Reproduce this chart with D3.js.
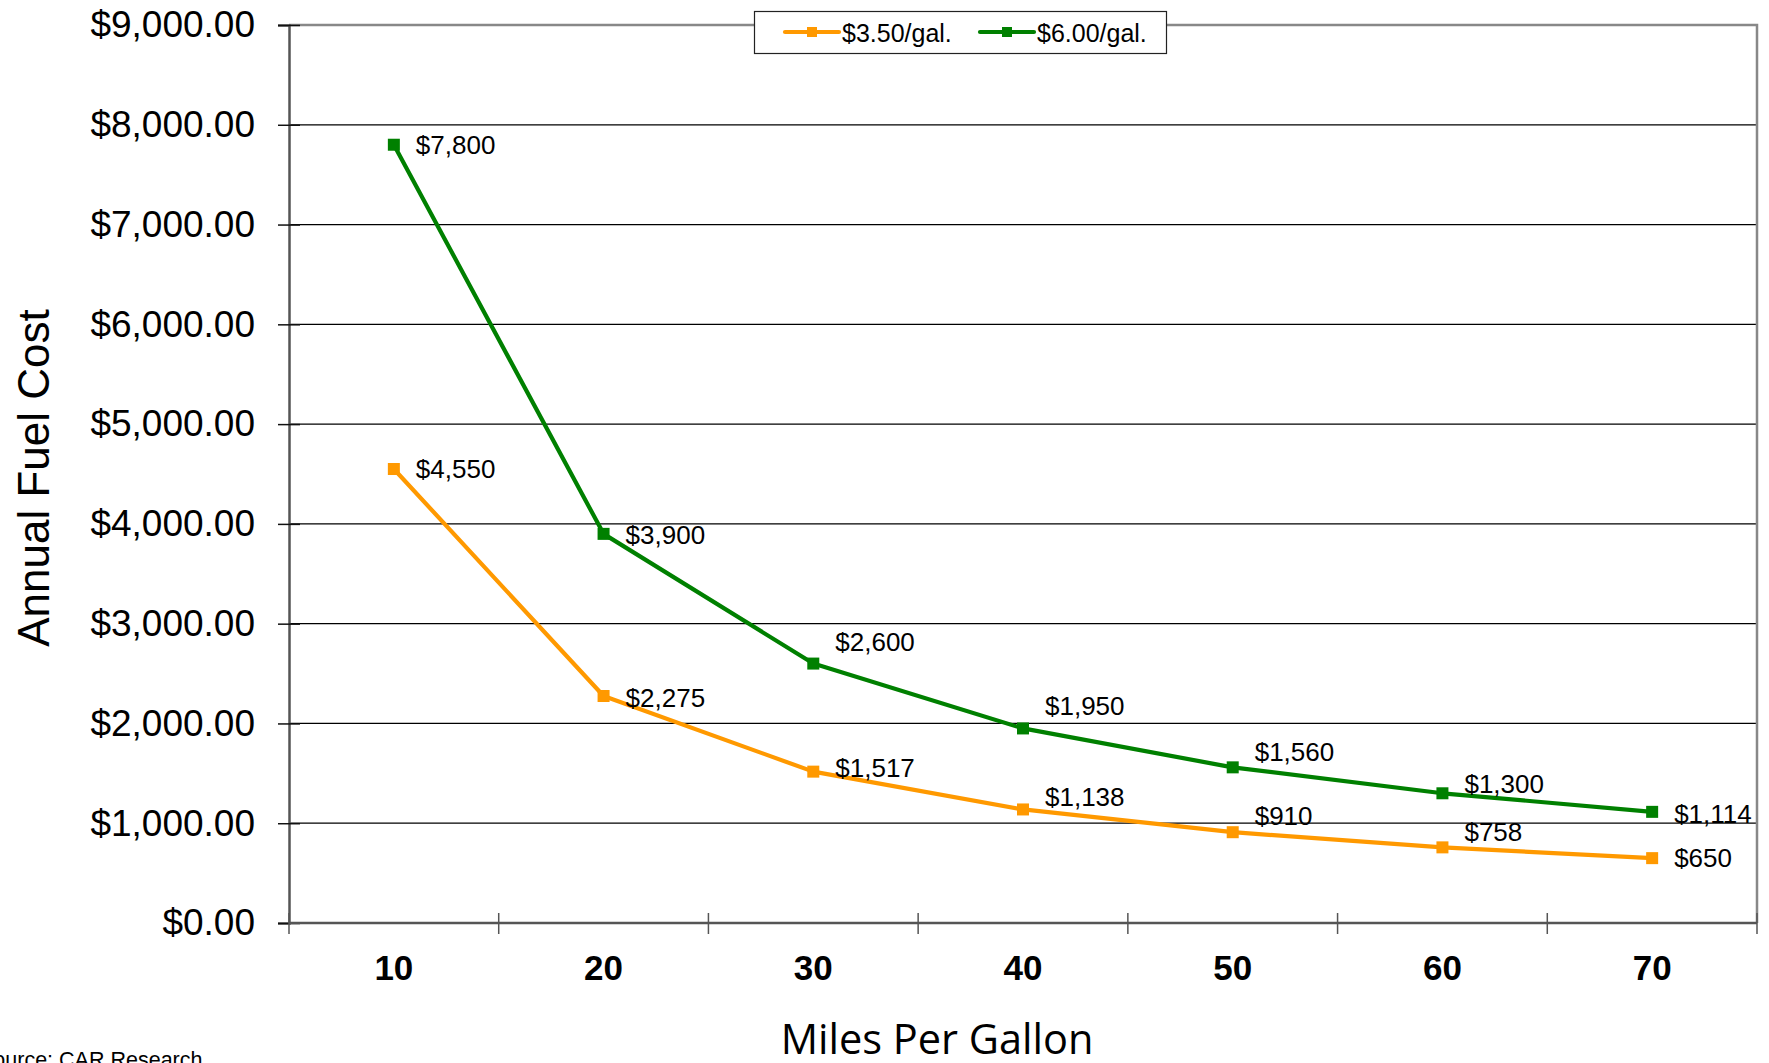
<!DOCTYPE html>
<html>
<head>
<meta charset="utf-8">
<script src="https://cdn.jsdelivr.net/npm/d3@7/dist/d3.min.js"></script>
<style>
  html, body { margin: 0; padding: 0; background: #fff; overflow: hidden; }
  svg { display: block; }
</style>
</head>
<body>
<svg id="chart" width="1769" height="1063"></svg>
<script>
// Miles per gallon categories and annual fuel cost at two gas prices
const mpg = [10, 20, 30, 40, 50, 60, 70];
const cost350 = [4550, 2275, 1517, 1138, 910, 758, 650];
const cost600 = [7800, 3900, 2600, 1950, 1560, 1300, 1114];
const seriesNames = ["$3.50/gal.", "$6.00/gal."];
const yTicks = [0, 1000, 2000, 3000, 4000, 5000, 6000, 7000, 8000, 9000];

// vertical nudges for the value labels so they clear the lines
const nudge350 = [0, 2, -4, -12, -16, -15, 0];
const nudge600 = [0, 1, -22, -22, -15, -9, 2];

const svg = d3.select("#chart");
const font = "'Liberation Sans', Arial, sans-serif";

const plotLeft = 289, plotRight = 1757, plotTop = 25, plotBottom = 923;

const x = d3.scaleBand().domain(mpg).range([plotLeft, plotRight]).padding(0);
const y = d3.scaleLinear().domain([0, 9000]).range([plotBottom, plotTop]);
const cx = d => x(d) + x.bandwidth() / 2;

// horizontal gridlines
svg.append("g")
  .selectAll("line")
  .data(yTicks.filter(v => v > 0 && v < 9000))
  .join("line")
  .attr("x1", plotLeft).attr("x2", plotRight)
  .attr("y1", d => y(d)).attr("y2", d => y(d))
  .attr("stroke", "#000").attr("stroke-width", 1.2);

// plot frame (top and right)
svg.append("path")
  .attr("d", `M${plotLeft},${plotTop}H${plotRight}V${plotBottom}`)
  .attr("fill", "none").attr("stroke", "#888").attr("stroke-width", 2.5);

// y axis
const yAxis = svg.append("g")
  .attr("transform", `translate(${plotLeft},0)`)
  .call(d3.axisLeft(y).tickValues(yTicks).tickFormat(d3.format("$,.2f"))
    .tickSize(11).tickPadding(23));
yAxis.select(".domain").attr("stroke", "#555").attr("stroke-width", 2.5);
yAxis.selectAll(".tick line").attr("x1", 11).attr("stroke", "#111").attr("stroke-width", 1.5);
yAxis.selectAll(".tick text")
  .attr("font-family", font).attr("font-size", 37).attr("fill", "#000");

// x axis: ticks on category boundaries, labels at centres
const bounds = mpg.map(d => x(d)).concat([plotRight]);
svg.append("line")
  .attr("x1", plotLeft).attr("x2", plotRight)
  .attr("y1", plotBottom).attr("y2", plotBottom)
  .attr("stroke", "#555").attr("stroke-width", 2.5);
svg.append("g").selectAll("line")
  .data(bounds).join("line")
  .attr("x1", d => d).attr("x2", d => d)
  .attr("y1", plotBottom - 10).attr("y2", plotBottom + 11)
  .attr("stroke", "#555").attr("stroke-width", 1.5);
svg.append("g").selectAll("text")
  .data(mpg).join("text")
  .attr("x", d => cx(d)).attr("y", 967)
  .attr("text-anchor", "middle").attr("dominant-baseline", "central")
  .attr("font-family", font).attr("font-size", 35).attr("font-weight", "bold")
  .text(d => d);

// axis titles
svg.append("text")
  .attr("transform", "translate(33,478) rotate(-90)")
  .attr("text-anchor", "middle").attr("dominant-baseline", "central")
  .attr("font-family", font).attr("font-size", 44)
  .text("Annual Fuel Cost");
svg.append("text")
  .attr("x", 937).attr("y", 1054)
  .attr("text-anchor", "middle")
  .attr("font-family", "'Open Sans', 'Noto Sans', sans-serif").attr("font-size", 41.5)
  .text("Miles Per Gallon");

// source note
svg.append("text")
  .attr("x", -21).attr("y", 1067)
  .attr("font-family", font).attr("font-size", 21.5)
  .text("Source: CAR Research");

// series
const series = [
  { name: seriesNames[0], values: cost350, nudge: nudge350, color: "#FF9900" },
  { name: seriesNames[1], values: cost600, nudge: nudge600, color: "#008000" }
];
const line = d3.line().x((d, i) => cx(mpg[i])).y(d => y(d));

series.forEach(s => {
  const g = svg.append("g");
  g.append("path")
    .attr("d", line(s.values))
    .attr("fill", "none").attr("stroke", s.color).attr("stroke-width", 4.2)
    .attr("stroke-linejoin", "round");
  g.selectAll("rect")
    .data(s.values).join("rect")
    .attr("x", (d, i) => cx(mpg[i]) - 6).attr("y", d => y(d) - 6)
    .attr("width", 12).attr("height", 12)
    .attr("fill", s.color);
  g.selectAll("text")
    .data(s.values).join("text")
    .attr("x", (d, i) => cx(mpg[i]) + 22)
    .attr("y", (d, i) => y(d) + s.nudge[i])
    .attr("dominant-baseline", "central")
    .attr("font-family", font).attr("font-size", 26)
    .text(d => d3.format("$,.0f")(d));
});

// legend
const lg = svg.append("g");
lg.append("rect")
  .attr("x", 754.5).attr("y", 11.5).attr("width", 412).attr("height", 42)
  .attr("fill", "#fff").attr("stroke", "#222").attr("stroke-width", 1.2);
const legendX = [785, 980];
series.forEach((s, i) => {
  const lx = legendX[i];
  lg.append("line")
    .attr("x1", lx).attr("x2", lx + 54).attr("y1", 32).attr("y2", 32)
    .attr("stroke", s.color).attr("stroke-width", 4.2).attr("stroke-linecap", "round");
  lg.append("rect")
    .attr("x", lx + 22).attr("y", 27).attr("width", 10).attr("height", 10)
    .attr("fill", s.color);
  lg.append("text")
    .attr("x", lx + 57).attr("y", 33)
    .attr("dominant-baseline", "central")
    .attr("font-family", font).attr("font-size", 25)
    .text(s.name);
});
</script>
</body>
</html>
